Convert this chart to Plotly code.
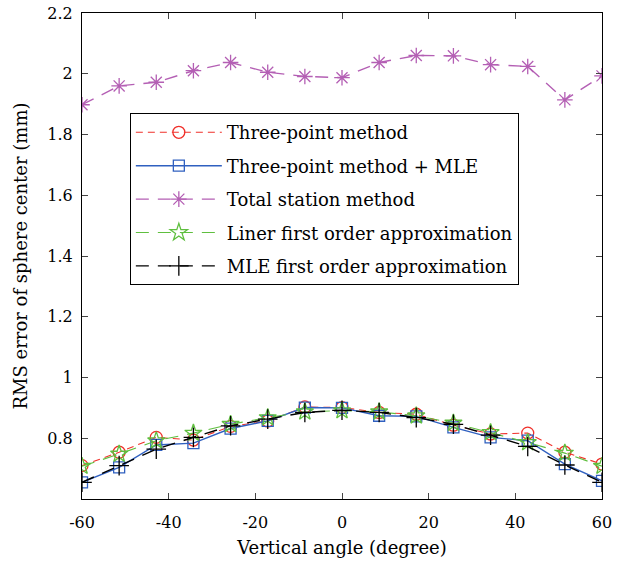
import plotly.graph_objects as go

angles = [-60, -51.43, -42.86, -34.29, -25.71, -17.14, -8.57, 0,
          8.57, 17.14, 25.71, 34.29, 42.86, 51.43, 60]

three_point = [0.710, 0.754, 0.803, 0.794, 0.839, 0.857, 0.903, 0.901,
               0.885, 0.879, 0.843, 0.814, 0.817, 0.754, 0.715]
three_point_mle = [0.655, 0.704, 0.778, 0.784, 0.832, 0.857, 0.901, 0.900,
                   0.874, 0.872, 0.836, 0.803, 0.792, 0.715, 0.660]
total_station = [1.898, 1.960, 1.972, 2.010, 2.037, 2.005, 1.991, 1.987,
                 2.037, 2.060, 2.059, 2.030, 2.024, 1.914, 1.993]
liner_first = [0.708, 0.748, 0.792, 0.817, 0.846, 0.868, 0.887, 0.891,
               0.887, 0.874, 0.850, 0.819, 0.786, 0.751, 0.708]
mle_first = [0.655, 0.710, 0.764, 0.803, 0.841, 0.863, 0.885, 0.892,
             0.885, 0.868, 0.846, 0.810, 0.773, 0.712, 0.655]

series_names = ["Three-point method", "Three-point method + MLE",
                "Total station method", "Liner first order approximation",
                "MLE first order approximation"]

x_ticks = [-60, -40, -20, 0, 20, 40, 60]
x_tick_text = ["-60", "-40", "-20", "0", "20", "40", "60"]
y_ticks = [0.8, 1, 1.2, 1.4, 1.6, 1.8, 2, 2.2]
y_tick_text = ["0.8", "1", "1.2", "1.4", "1.6", "1.8", "2", "2.2"]

FONT = "DejaVu Serif"

styles = [
    dict(color="#f0302a", dash="7px,5px", width=1.1, symbol="circle-open", size=12),
    dict(color="#3060c0", dash="solid", width=1.4, symbol="square-open", size=11),
    dict(color="#b45fb4", dash="13px,9px", width=1.4, symbol="asterisk-open", size=13),
    dict(color="#5fbf3f", dash="13px,9px", width=1.1, symbol="star-open", size=13),
    dict(color="#000000", dash="13px,9px", width=1.4, symbol="cross-thin-open", size=14),
]

data = [three_point, three_point_mle, total_station, liner_first, mle_first]

fig = go.Figure()
for i, (name, ys, st) in enumerate(zip(series_names, data, styles)):
    fig.add_trace(go.Scatter(
        x=angles, y=ys, name=name, mode="lines+markers",
        legendgroup=f"g{i}",
        line=dict(color=st["color"], dash=st["dash"], width=st["width"]),
        marker=dict(symbol=st["symbol"], size=st["size"], color=st["color"],
                    line=dict(color=st["color"], width=1.3)),
    ))

fig.update_layout(
    width=628, height=564,
    margin=dict(l=82, r=26, t=13, b=65, autoexpand=False),
    paper_bgcolor="white", plot_bgcolor="white",
    font=dict(family=FONT, size=17, color="black"),
    legend=dict(
        x=0.092, y=0.794, xanchor="left", yanchor="top",
        bordercolor="black", borderwidth=1, bgcolor="white",
        font=dict(family=FONT, size=18, color="black"),
        itemwidth=86, tracegroupgap=7, traceorder="grouped",
    ),
    xaxis=dict(
        range=[-60, 60], tickvals=x_ticks, ticktext=x_tick_text,
        ticks="inside", ticklen=6, automargin=False, ticklabelstandoff=9,
        showline=True, linecolor="black", linewidth=1.2, mirror="ticks",
        showgrid=False, zeroline=False,
        title=dict(text="Vertical angle (degree)", font=dict(family=FONT, size=18), standoff=10),
        tickfont=dict(family=FONT, size=16),
    ),
    yaxis=dict(
        range=[0.6, 2.2], tickvals=y_ticks, ticktext=y_tick_text, ticks="inside", ticklen=6,
        automargin=False, ticklabelstandoff=5,
        showline=True, linecolor="black", linewidth=1.2, mirror="ticks",
        showgrid=False, zeroline=False,
        title=dict(text="RMS error of sphere center (mm)", font=dict(family=FONT, size=18), standoff=14),
        tickfont=dict(family=FONT, size=16),
    ),
)

fig.write_html("out.html", config={"displayModeBar": False},
               post_script="document.body.style.margin='0px';")
